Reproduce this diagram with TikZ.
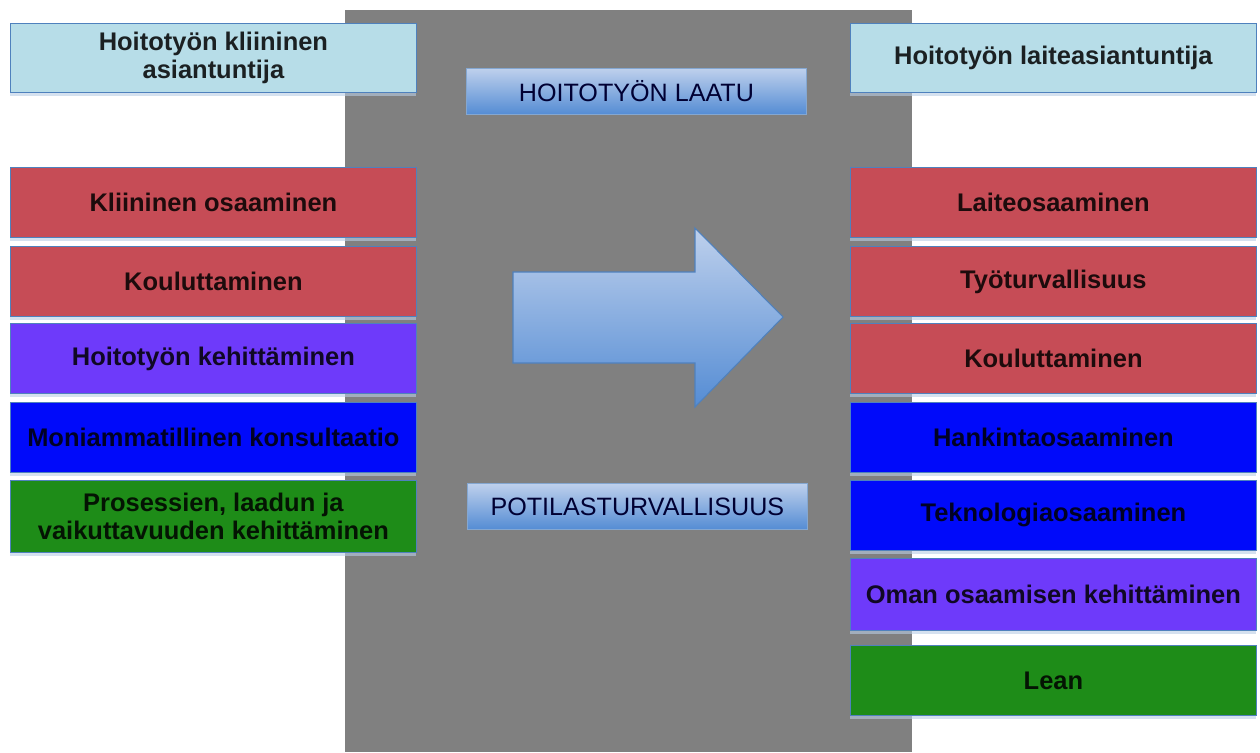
\documentclass[tikz,border=0pt]{standalone}
\usepackage{fontspec}
\setmainfont{Liberation Sans}
\usetikzlibrary{shadows}
\definecolor{paleblue}{RGB}{183,221,232}
\definecolor{edgeblue}{RGB}{79,129,189}
\definecolor{boxred}{RGB}{198,76,86}
\definecolor{boxviolet}{RGB}{110,58,250}
\definecolor{boxblue}{RGB}{0,10,250}
\definecolor{boxgreen}{RGB}{30,140,24}
\definecolor{midgray}{RGB}{128,128,128}
\definecolor{barlight}{RGB}{190,208,236}
\definecolor{bardark}{RGB}{84,140,212}
\tikzset{
  card/.style={draw=edgeblue, line width=0.5pt, minimum width=8.12cm, minimum height=1.4cm,
    anchor=north west, inner sep=2pt, align=center, font=\fontsize{14.5}{16}\selectfont\bfseries,
    text=black, text opacity=0.85,
    drop shadow={shadow xshift=0pt, shadow yshift=-2pt, fill=edgeblue!40, opacity=0.6}},
  headcard/.style={card, fill=paleblue, minimum height=1.38cm},
  redcard/.style={card, fill=boxred},
  violetcard/.style={card, fill=boxviolet},
  bluecard/.style={card, fill=boxblue},
  greencard/.style={card, fill=boxgreen},
  bar/.style={draw=edgeblue!70, line width=0.5pt, top color=barlight, bottom color=bardark,
    minimum width=6.8cm, minimum height=0.92cm, anchor=north west,
    font=\fontsize{14.3}{16}\selectfont, text=black!80!blue}
}
\begin{document}
\begin{tikzpicture}[x=0.02cm,y=-0.02cm]
  \useasboundingbox (0,0) rectangle (1260,752);
  % centre column
  \fill[midgray] (345,10) rectangle (912,752);
  \node[bar] (laatu) at (466,68) {HOITOTYÖN LAATU};
  \node[bar] (turva) at (467,483) {POTILASTURVALLISUUS};
  \shade[top color=barlight, bottom color=bardark, draw=edgeblue, line width=0.6pt]
    (513,272) -- (695,272) -- (695,228) -- (783,317) -- (695,407) -- (695,363) -- (513,363) -- cycle;
  % left column
  \node[headcard] (lhead) at (10,23) {Hoitotyön kliininen\\asiantuntija};
  \node[redcard] (l1) at (10,167) {Kliininen osaaminen};
  \node[redcard] (l2) at (10,246) {Kouluttaminen};
  \node[violetcard] (l3) at (10,323) {Hoitotyön kehittäminen};
  \node[bluecard] (l4) at (10,402) {Moniammatillinen konsultaatio};
  \node[greencard, minimum height=1.44cm] (l5) at (10,480) {Prosessien, laadun ja\\vaikuttavuuden kehittäminen};
  % right column
  \node[headcard] (rhead) at (850,23) {Hoitotyön laiteasiantuntija};
  \node[redcard] (r1) at (850,167) {Laiteosaaminen};
  \node[redcard] (r2) at (850,246) {Työturvallisuus};
  \node[redcard] (r3) at (850,323) {Kouluttaminen};
  \node[bluecard] (r4) at (850,402) {Hankintaosaaminen};
  \node[bluecard] (r5) at (850,480) {Teknologiaosaaminen};
  \node[violetcard, minimum height=1.44cm] (r6) at (850,558) {Oman osaamisen kehittäminen};
  \node[greencard] (r7) at (850,645) {Lean};
\end{tikzpicture}
\end{document}
